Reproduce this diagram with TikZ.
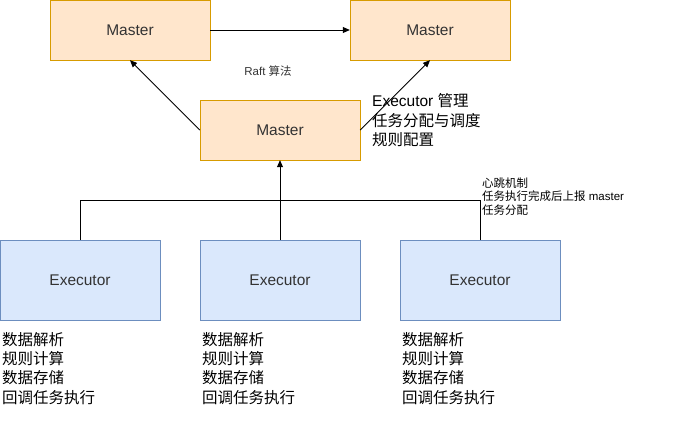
\documentclass[tikz,border=0pt]{standalone}
\usepackage{fontspec}
\setmainfont{Liberation Sans}
\newfontfamily\cjk{Noto Sans CJK SC}
\usetikzlibrary{arrows.meta}
\definecolor{ofill}{HTML}{FFE6CC}
\definecolor{odraw}{HTML}{D79B00}
\definecolor{bfill}{HTML}{DAE8FC}
\definecolor{bdraw}{HTML}{6C8EBF}
\definecolor{txt}{HTML}{333333}
\tikzset{
  masterbox/.style={draw=odraw,fill=ofill,minimum width=160pt,minimum height=60pt,inner sep=0pt,font=\fontsize{15.5}{17}\selectfont,text=txt},
  execbox/.style={draw=bdraw,fill=bfill,minimum width=160pt,minimum height=80pt,inner sep=0pt,font=\fontsize{15.5}{17}\selectfont,text=txt},
  bigtext/.style={anchor=north west,inner sep=0pt,align=left,font=\fontsize{15.5}{19.3}\selectfont},
  smalltext/.style={anchor=north west,inner sep=0pt,align=left,font=\fontsize{11.5}{13.5}\selectfont},
  arr/.style={-{Triangle[length=7pt,width=6pt]},line width=0.8pt},
  conn/.style={line width=0.8pt}
}
\begin{document}
\begin{tikzpicture}[x=1pt,y=-1pt]
\useasboundingbox (0,0) rectangle (691,431);
\node[masterbox] (m1) at (130,30) {Master};
\node[masterbox] (m2) at (430,30) {Master};
\node[masterbox] (m3) at (280,130) {Master};
\node[execbox] (e1) at (80,280) {Executor};
\node[execbox] (e2) at (280,280) {Executor};
\node[execbox] (e3) at (480,280) {Executor};
\draw[arr] (m1.east) -- (m2.west);
\draw[arr] (m3.west) -- (m1.south);
\draw[arr] (m3.east) -- (m2.south);
\draw[arr] (e2.north) -- (m3.south);
\coordinate (c1) at (80,200);
\coordinate (c2) at (480,200);
\draw[conn] (e1.north) -- (c1) -- (c2) -- (e3.north);
\node[font=\fontsize{11.5}{13}\selectfont,text=txt,inner sep=0pt] (raft) at (268,71) {Raft {\cjk 算法}};
\node[bigtext] (mt) at (372,93.5) {Executor {\cjk 管理}\\{\cjk 任务分配与调度}\\{\cjk 规则配置}};
\node[smalltext] (hb) at (482,177.5) {{\cjk 心跳机制}\\{\cjk 任务执行完成后上报} master\\{\cjk 任务分配}};
\node[bigtext] (t1) at (2,332) {\cjk 数据解析\\\cjk 规则计算\\\cjk 数据存储\\\cjk 回调任务执行};
\node[bigtext] (t2) at (202,332) {\cjk 数据解析\\\cjk 规则计算\\\cjk 数据存储\\\cjk 回调任务执行};
\node[bigtext] (t3) at (402,332) {\cjk 数据解析\\\cjk 规则计算\\\cjk 数据存储\\\cjk 回调任务执行};
\end{tikzpicture}
\end{document}
